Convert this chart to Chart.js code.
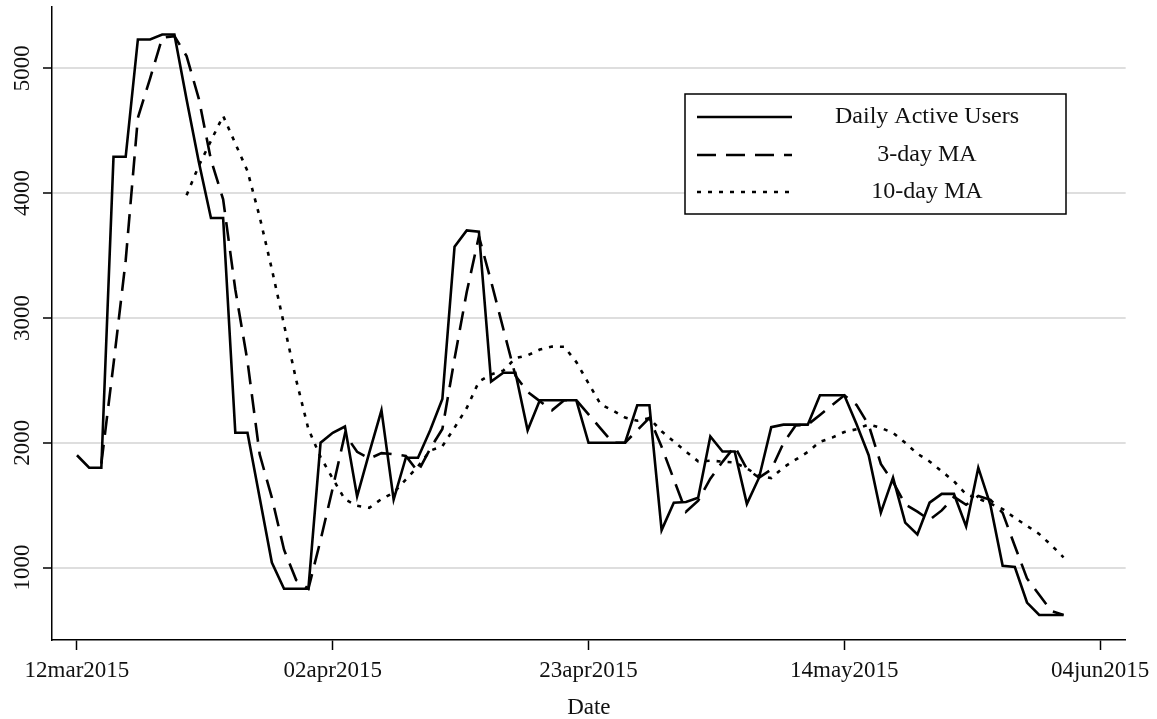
<!DOCTYPE html>
<html>
<head>
<meta charset="utf-8">
<script src="https://cdn.jsdelivr.net/npm/chart.js@4.4.1/dist/chart.umd.min.js"></script>
<style>
  html, body { margin: 0; padding: 0; background: #fff; }
</style>
</head>
<body>
<canvas id="dauChart" width="1157" height="719"></canvas>
<script>
// DATA - one value per day, day 0 = 12mar2015
const dailyActiveUsers = [
  1900, 1800, 1800, 4290, 4290, 5230, 5230, 5270, 5270, 4750,
  4250, 3800, 3800, 2080, 2080, 1560, 1040, 830, 830, 830,
  2000, 2080, 2130, 1570, 1920, 2260, 1545, 1880, 1880, 2100,
  2350, 3570, 3700, 3690, 2490, 2560, 2560, 2100, 2340, 2340,
  2340, 2340, 2000, 2000, 2000, 2000, 2300, 2300, 1300, 1520,
  1525, 1560, 2050, 1930, 1930, 1510, 1720, 2125, 2145, 2145,
  2145, 2380, 2380, 2380, 2150, 1900, 1440, 1720, 1360, 1265,
  1520, 1590, 1590, 1330, 1800, 1500, 1015, 1005, 720, 620,
  620, 620
];

const ma3Day = [
  null, null, 1833, 2630, 3460, 4603, 4917, 5243, 5257, 5097,
  4757, 4267, 3950, 3227, 2653, 1907, 1560, 1143, 900, 830,
  1220, 1637, 2070, 1927, 1873, 1917, 1908, 1895, 1768, 1953,
  2110, 2673, 3207, 3653, 3293, 2913, 2537, 2407, 2333, 2260,
  2340, 2340, 2227, 2113, 2000, 2000, 2100, 2200, 1967, 1707,
  1448, 1535, 1712, 1847, 1970, 1790, 1720, 1785, 1997, 2138,
  2145, 2223, 2302, 2380, 2303, 2143, 1830, 1687, 1507, 1448,
  1382, 1458, 1567, 1503, 1573, 1543, 1438, 1173, 913, 782,
  653, 620
];

const ma10Day = [
  null, null, null, null, null, null, null, null, null, 3983,
  4218, 4418, 4618, 4397, 4176, 3809, 3390, 2946, 2502, 2110,
  1885, 1713, 1546, 1495, 1479, 1549, 1600, 1705, 1810, 1937,
  1972, 2121, 2278, 2490, 2547, 2577, 2678, 2700, 2746, 2770,
  2769, 2646, 2476, 2307, 2258, 2202, 2176, 2196, 2092, 2010,
  1929, 1851, 1856, 1849, 1842, 1793, 1735, 1717, 1802, 1864,
  1926, 2008, 2041, 2086, 2108, 2147, 2119, 2079, 2000, 1912,
  1850, 1771, 1692, 1587, 1552, 1512, 1469, 1398, 1334, 1269,
  1179, 1082
];

const seriesLabels = ["Daily Active Users", "3-day MA", "10-day MA"];
const yTicks = [1000, 2000, 3000, 4000, 5000];
const xTickDays = [0, 21, 42, 63, 84];
const xTickLabels = ["12mar2015", "02apr2015", "23apr2015", "14may2015", "04jun2015"];
const xTitle = "Date";

// STYLE
const FONT = "Liberation Serif, Times New Roman, serif";
const INK = "#111";
const dashes = [[], [19, 10], [4, 7]];

// HELPERS
function toPoints(values) {
  return values.map((v, i) => ({ x: i, y: v }));
}

// Y LABELS (rotated, as in the original)
const yLabelPlugin = {
  id: "yLabels",
  afterDraw(chart) {
    const ctx = chart.ctx;
    const scale = chart.scales.y;
    ctx.save();
    ctx.font = `23px ${FONT}`;
    ctx.fillStyle = INK;
    ctx.textAlign = "center";
    ctx.textBaseline = "middle";
    yTicks.forEach(v => {
      const y = scale.getPixelForValue(v);
      ctx.save();
      ctx.translate(23, y);
      ctx.rotate(-Math.PI / 2);
      ctx.fillText(String(v), 0, 0);
      ctx.restore();
    });
    ctx.restore();
  }
};

// LEGEND BOX
const legendPlugin = {
  id: "boxLegend",
  afterDraw(chart) {
    const ctx = chart.ctx;
    const box = { x: 685, y: 94, w: 381, h: 120 };
    const rows = [117, 155, 192];
    ctx.save();
    ctx.fillStyle = "#fff";
    ctx.fillRect(box.x, box.y, box.w, box.h);
    ctx.strokeStyle = "#000";
    ctx.lineWidth = 1.5;
    ctx.strokeRect(box.x, box.y, box.w, box.h);

    chart.data.datasets.forEach((ds, i) => {
      const y = rows[i];
      ctx.beginPath();
      ctx.setLineDash(ds.borderDash || []);
      ctx.lineWidth = ds.borderWidth;
      ctx.strokeStyle = ds.borderColor;
      ctx.moveTo(697, y);
      ctx.lineTo(792, y);
      ctx.stroke();
      ctx.setLineDash([]);
      ctx.font = `24px ${FONT}`;
      ctx.fillStyle = INK;
      ctx.textAlign = "center";
      ctx.textBaseline = "middle";
      ctx.fillText(ds.label, 927, y);
    });
    ctx.restore();
  }
};

// CHART
new Chart(document.getElementById("dauChart"), {
  type: "line",
  data: {
    datasets: [dailyActiveUsers, ma3Day, ma10Day].map((vals, i) => ({
      label: seriesLabels[i],
      data: toPoints(vals),
      borderColor: "#000",
      borderWidth: 2.6,
      borderDash: dashes[i],
      pointRadius: 0,
      tension: 0,
      fill: false,
      spanGaps: false
    }))
  },
  options: {
    responsive: false,
    animation: false,
    devicePixelRatio: 1,
    layout: { padding: { top: 7, right: 30, left: 0, bottom: 0 } },
    plugins: {
      legend: { display: false },
      tooltip: { enabled: false }
    },
    scales: {
      x: {
        type: "linear",
        min: -2.05,
        max: 86.1,
        afterBuildTicks: s => { s.ticks = xTickDays.map(v => ({ value: v })); },
        afterFit: s => { s.height = 79; },
        grid: { drawOnChartArea: false, tickLength: 10, tickColor: "#000", tickWidth: 1.5 },
        border: { color: "#000", width: 1.5 },
        ticks: {
          callback: v => xTickLabels[xTickDays.indexOf(v)],
          font: { family: FONT, size: 23 },
          color: INK,
          maxRotation: 0,
          autoSkip: false,
          padding: 7
        },
        title: {
          display: true,
          text: xTitle,
          font: { family: FONT, size: 23, lineHeight: 1 },
          color: INK,
          padding: { top: 0, bottom: 0 }
        }
      },
      y: {
        min: 420,
        max: 5490,
        afterBuildTicks: s => { s.ticks = yTicks.map(v => ({ value: v })); },
        afterFit: s => { s.width = 52; },
        grid: { color: "#dedede", lineWidth: 2, tickColor: "#000", tickLength: 9, tickWidth: 1.5 },
        border: { color: "#000", width: 1.5 },
        ticks: { display: false }
      }
    }
  },
  plugins: [yLabelPlugin, legendPlugin]
});
</script>
</body>
</html>
